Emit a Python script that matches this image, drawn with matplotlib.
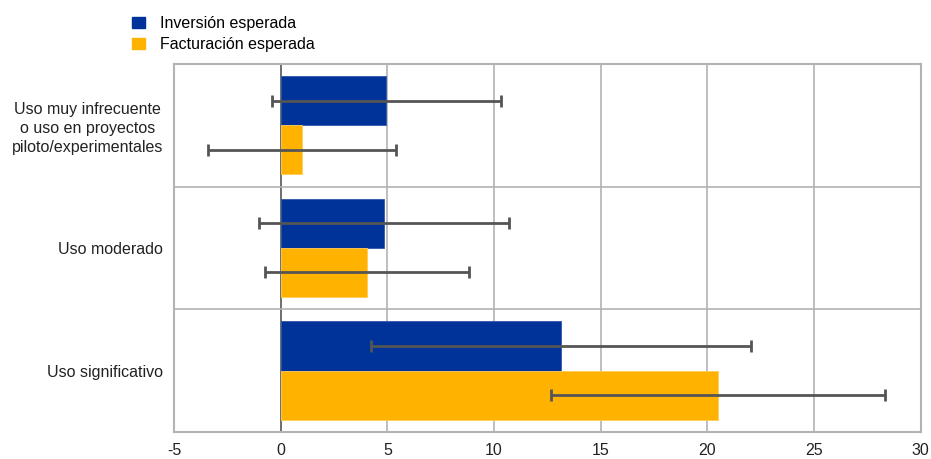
import numpy as np
from matplotlib import pyplot as plt
from matplotlib.patches import Patch

categories = ["Uso muy infrecuente\no uso en proyectos\npiloto/experimentales",
              "Uso moderado",
              "Uso significativo"]
series_names = ["Inversión esperada", "Facturación esperada"]
inversion = [4.95, 4.84, 13.13]
inversion_err = [5.38, 5.87, 8.91]
facturacion = [1.0, 4.06, 20.5]
facturacion_err = [4.4, 4.78, 7.84]
x_ticks = [-5, 0, 5, 10, 15, 20, 25, 30]

blue = "#003399"
orange = "#ffb300"
grid_gray = "#b3b3b3"
fs = 11.5

plt.rcParams["font.family"] = ["Liberation Sans", "DejaVu Sans"]

fig = plt.figure(figsize=(9.31, 4.59), dpi=100)
ax = fig.add_axes([0.187, 0.059, 0.802, 0.802])

y = np.arange(len(categories))
h = 0.4
err_kw = dict(ecolor="#555555", elinewidth=2, capsize=4, capthick=2)
ax.barh(y - h / 2, inversion, height=h, color=blue, edgecolor="#3355aa",
        linewidth=0.6, xerr=inversion_err, error_kw=err_kw, zorder=2)
ax.barh(y + h / 2, facturacion, height=h, color=orange, edgecolor="#ffcc55",
        linewidth=0.6, xerr=facturacion_err, error_kw=err_kw, zorder=2)

ax.set_xlim(-5, 30)
ax.set_ylim(len(categories) - 0.5, -0.5)
ax.set_xticks(x_ticks)
ax.set_xticklabels([str(t) for t in x_ticks], fontsize=fs, color="#222222")
ax.set_yticks(y)
ax.set_yticklabels(categories, fontsize=fs, color="#222222",
                   multialignment="center", linespacing=1.3)
ax.tick_params(axis="both", length=0, pad=8)

for t in x_ticks[1:-1]:
    ax.axvline(t, color="#555555" if t == 0 else grid_gray, lw=1.2, zorder=1)
for b in np.arange(0.5, len(categories) - 0.5):
    ax.axhline(b, color=grid_gray, lw=1.2, zorder=1)
for s in ax.spines.values():
    s.set_color(grid_gray)
    s.set_linewidth(1.5)

handles = [Patch(facecolor=blue, edgecolor=blue), Patch(facecolor=orange, edgecolor=orange)]
fig.legend(handles, series_names, loc="upper left", bbox_to_anchor=(0.142, 0.965),
           frameon=False, fontsize=fs, handlelength=0.8, handleheight=0.7,
           handletextpad=0.95, labelspacing=0.4, borderaxespad=0, borderpad=0)

fig.savefig("out.png", dpi=100)
